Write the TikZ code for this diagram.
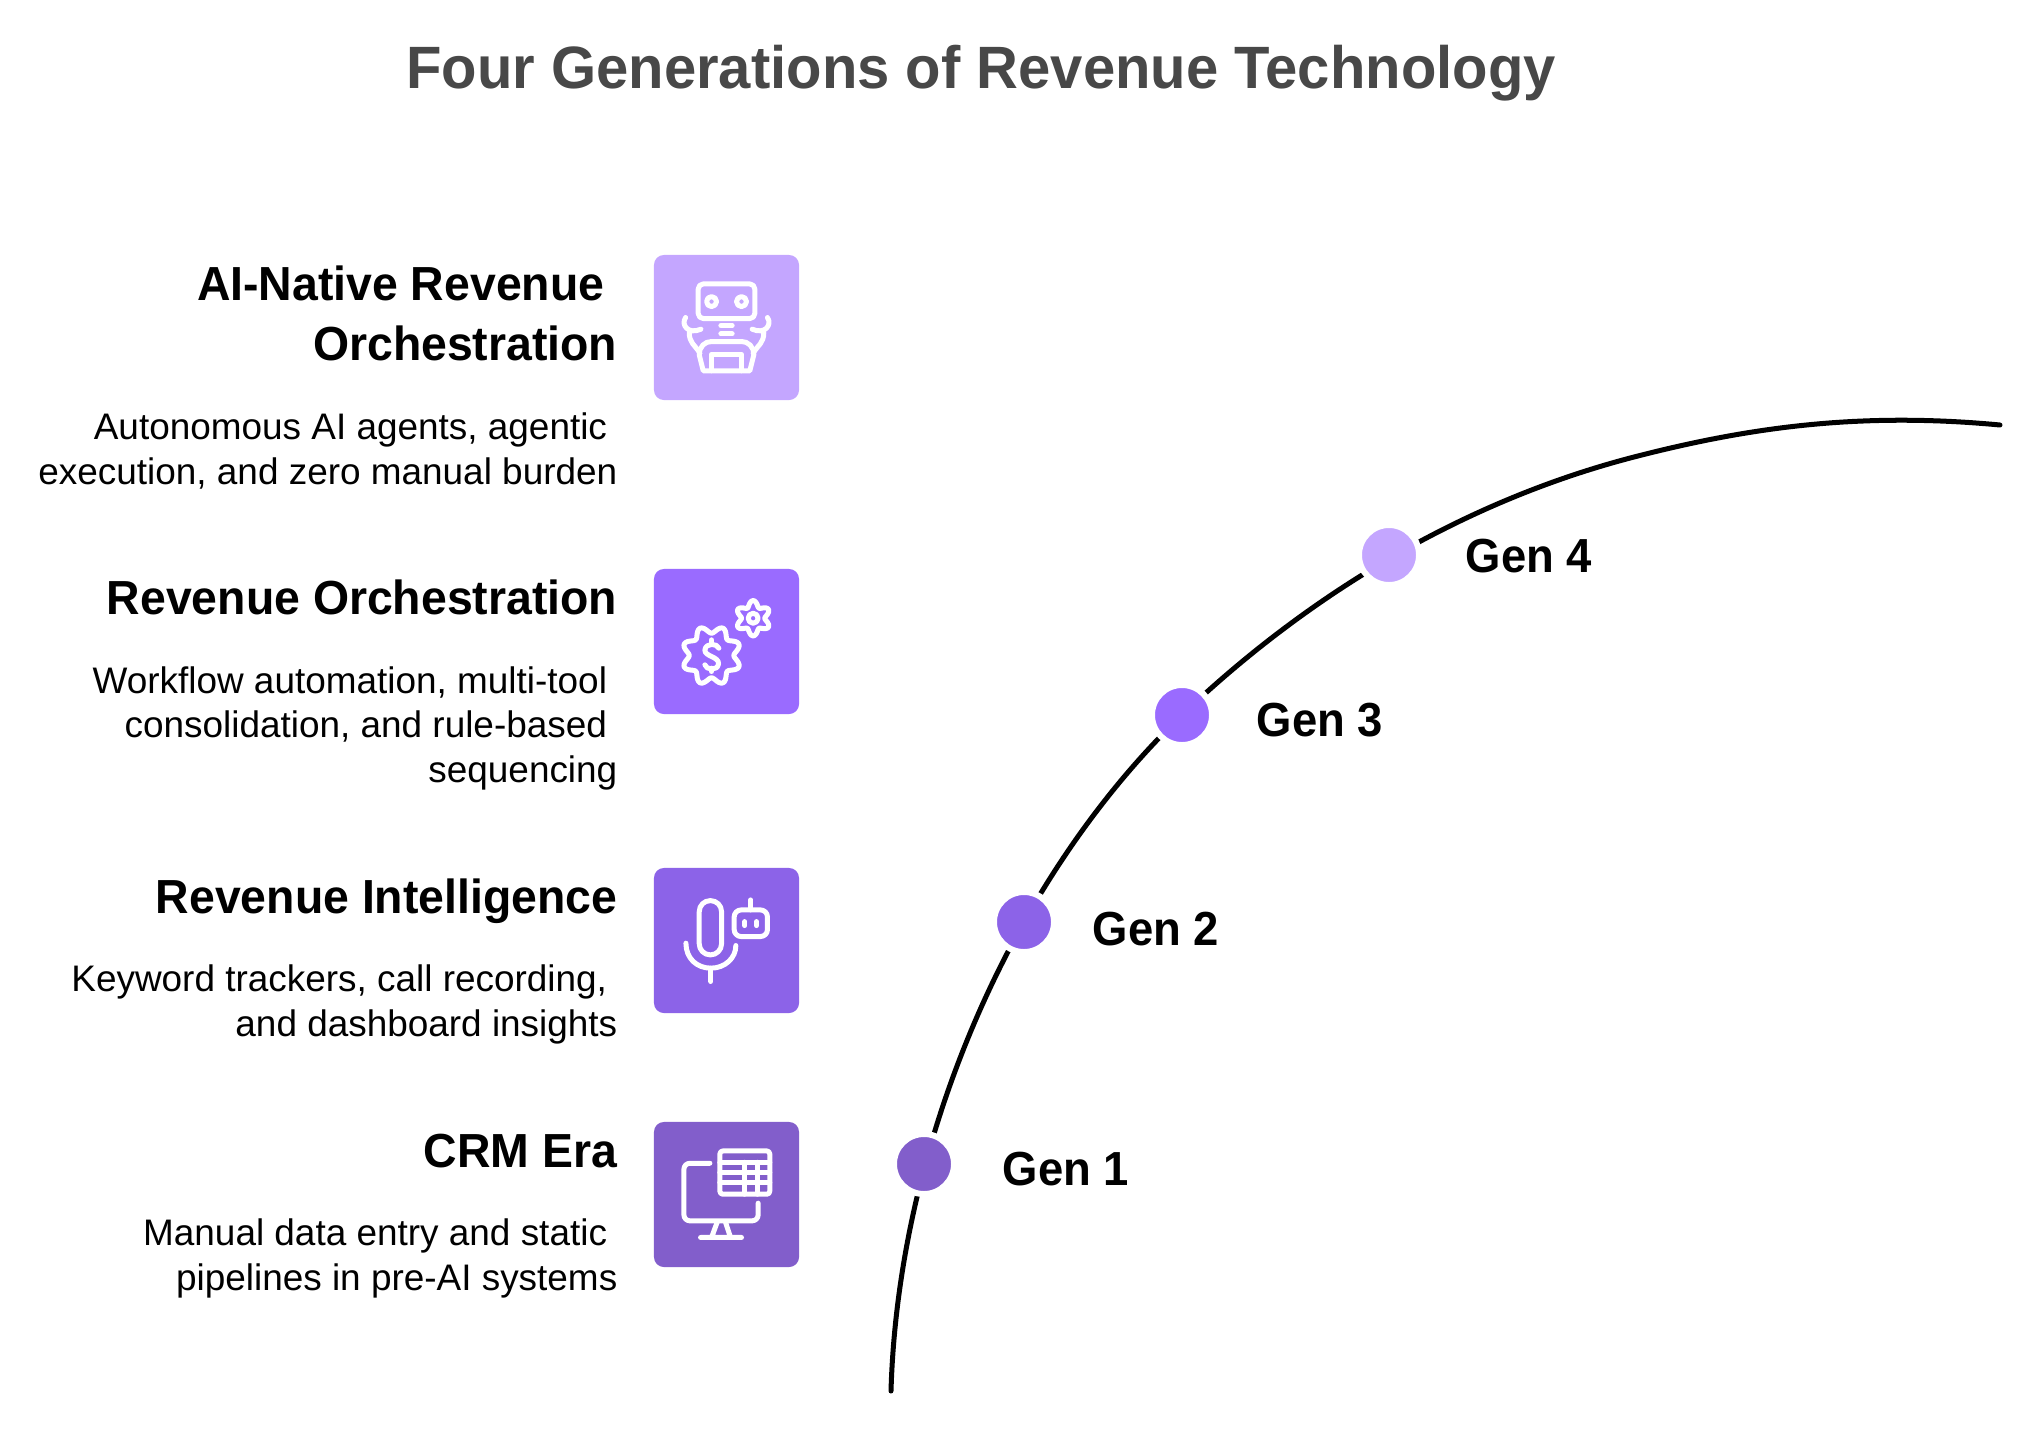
\documentclass[tikz,border=0pt]{standalone}
\usepackage{fontspec}
\setmainfont{Liberation Sans}
\newfontfamily\headfont[FakeStretch=0.97]{Liberation Sans}
\newfontfamily\genfont[FakeStretch=0.95]{Liberation Sans}
\usepackage{tikz}
\usetikzlibrary{calc}
\definecolor{genA}{HTML}{825ECB}
\definecolor{genB}{HTML}{8C63E8}
\definecolor{genC}{HTML}{9A6BFF}
\definecolor{genD}{HTML}{C4A6FF}
\definecolor{titlegray}{HTML}{484848}
\tikzset{
	iconbox/.style={fill=#1,rounded corners=0.1cm,minimum size=1.45cm,inner sep=0},
	gendot/.style={circle,fill=#1,draw=white,line width=0.06cm,minimum size=0.6cm,inner sep=0},
	genlabel/.style={anchor=base west,font=\genfont\bfseries\fontsize{13.6}{16}\selectfont,inner sep=0},
	headlabel/.style={anchor=base east,align=right,font=\headfont\bfseries\fontsize{13.6}{16.8}\selectfont,inner sep=0},
	desclabel/.style={anchor=base east,align=right,font=\fontsize{10.5}{12.65}\selectfont,inner sep=0},
	iconline/.style={draw=white,line width=0.05cm,line cap=round,line join=round},
	iconscope/.style={x=0.003333cm,y=-0.003333cm}
}
\begin{document}
\begin{tikzpicture}[x=0.01cm,y=-0.01cm]
\useasboundingbox (0,0) rectangle (2041,1433);
\path (981,88) node[anchor=base,inner sep=0,text=titlegray,font=\headfont\bfseries\fontsize{17}{20}\selectfont] (title) {Four Generations of Revenue Technology};
%curve
\coordinate (curvestart) at (891,1391);
\coordinate (curvemid) at (1182,715);
\coordinate (curvebend) at (1634,457);
\coordinate (curveend) at (2000,425);
\draw[line width=0.05cm,line cap=round] (curvestart) .. controls (898,1148) and (1007,883) .. (curvemid)
	.. controls (1309,594) and (1464,501) .. (curvebend)
	.. controls (1752,426.5) and (1862,412) .. (curveend);
%dots
\path (924,1164) node[gendot=genA] (gen1) {}
	(1024,922) node[gendot=genB] (gen2) {}
	(1182,715) node[gendot=genC] (gen3) {}
	(1389,555) node[gendot=genD] (gen4) {};
\path (1002,1185) node[genlabel] (gen1label) {Gen 1}
	(1092,945) node[genlabel] (gen2label) {Gen 2}
	(1256,736) node[genlabel] (gen3label) {Gen 3}
	(1465,572) node[genlabel] (gen4label) {Gen 4};
%text
\path (618,360) node[headlabel] (head4) {AI-Native Revenue~~\\Orchestration}
	(618,484) node[desclabel] (desc4) {Autonomous AI agents, agentic~~\\execution, and zero manual burden};
\path (618,614) node[headlabel] (head3) {Revenue Orchestration}
	(618,782) node[desclabel] (desc3) {Workflow automation, multi-tool~~\\consolidation, and rule-based~~\\sequencing};
\path (618,913) node[headlabel] (head2) {Revenue Intelligence}
	(618,1036) node[desclabel] (desc2) {Keyword trackers, call recording,~~\\and dashboard insights};
\path (618,1167) node[headlabel] (head1) {CRM Era}
	(618,1290) node[desclabel] (desc1) {Manual data entry and static~~\\pipelines in pre-AI systems};
%boxes
\path (726.5,327.5) node[iconbox=genD] (box4) {}
	(726.5,641.5) node[iconbox=genC] (box3) {}
	(726.5,940.5) node[iconbox=genB] (box2) {}
	(726.5,1194.5) node[iconbox=genA] (box1) {};
%robot
\begin{scope}[shift={(640,240)},iconscope]
\draw[iconline,rounded corners=0.05cm] (175,132) rectangle (345,236);
\draw[iconline] (215,185) circle (15) (305,185) circle (15);
\draw[iconline] (243,257) -- (277,257) (243,282) -- (277,282);
\draw[iconline] (190,393) -- (178,345) .. controls (178,320) and (195,305) .. (215,305) -- (305,305) .. controls (325,305) and (342,320) .. (342,345) -- (330,393) -- cycle;
\draw[iconline] (215,393) -- (215,343) -- (305,343) -- (305,393);
\draw[iconline] (137,233) .. controls (122,255) and (145,285) .. (183,268)
	(148,278) .. controls (148,310) and (165,315) .. (180,340);
\draw[iconline] (383,233) .. controls (398,255) and (375,285) .. (337,268)
	(372,278) .. controls (372,310) and (355,315) .. (340,340);
\end{scope}
%gears
\begin{scope}[shift={(640,560)},iconscope]
\draw[iconline] plot[smooth cycle,domain=0:357,samples=120,variable=\t] ({215+(78-11*cos(8*\t))*cos(\t)},{287+(78-11*cos(8*\t))*sin(\t)});
\draw[iconline] plot[smooth cycle,domain=0:357,samples=120,variable=\t] ({340+(44-9*cos(6*\t))*cos(\t)},{175+(44-9*cos(6*\t))*sin(\t)});
\draw[iconline] (340,175) circle (15);
\draw[iconline] (237,265) .. controls (232,250) and (198,248) .. (195,270) .. controls (193,290) and (238,290) .. (236,312) .. controls (233,335) and (198,330) .. (195,315);
\draw[iconline] (215,240) -- (215,250) (215,325) -- (215,335);
\end{scope}
%mic
\begin{scope}[shift={(640,860)},iconscope]
\draw[iconline,rounded corners=0.11cm] (178,122) rectangle (245,285);
\draw[iconline] (138,250) .. controls (138,295) and (170,325) .. (213,325) .. controls (255,325) and (288,295) .. (288,257);
\draw[iconline] (213,325) -- (213,365);
\draw[iconline,rounded corners=0.07cm] (283,150) rectangle (383,230);
\draw[iconline] (333,150) -- (333,120);
\draw[iconline] (315,185) -- (315,197) (350,185) -- (350,197);
\end{scope}
%monitor
\begin{scope}[shift={(640,1115)},iconscope]
\draw[iconline,rounded corners=0.03cm] (240,108) rectangle (390,238);
\draw[iconline] (240,142) -- (390,142) (240,173) -- (390,173) (240,204) -- (390,204)
	(314,142) -- (314,238) (352,142) -- (352,238);
\draw[iconline,rounded corners=0.06cm] (210,145) -- (132,145) -- (132,318) -- (355,318) -- (355,265);
\draw[iconline] (232,322) -- (215,368) (257,322) -- (272,368) (182,368) -- (305,368);
\end{scope}
\end{tikzpicture}
\end{document}
